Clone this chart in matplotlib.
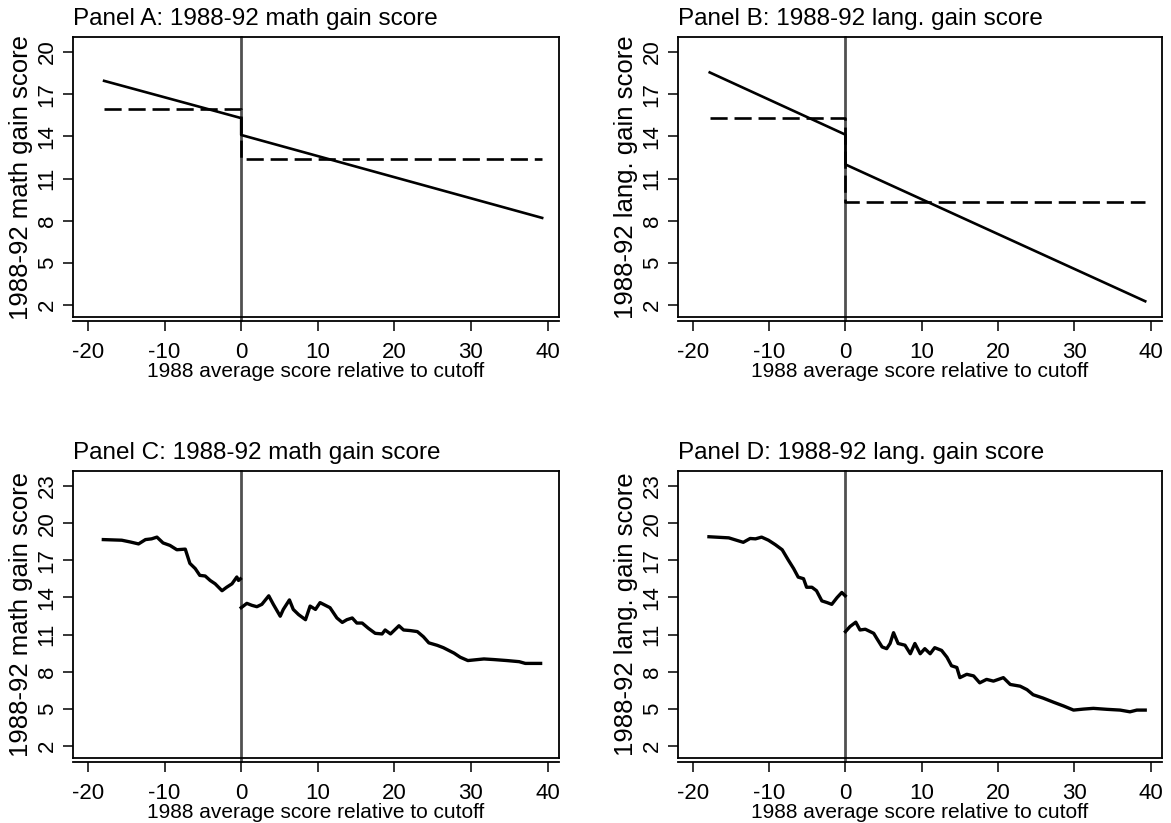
import matplotlib
matplotlib.use("Agg")
import matplotlib.pyplot as plt
from matplotlib import font_manager as fm
import numpy as np

# ---------------- data ----------------
titles = ["Panel A: 1988-92 math gain score", "Panel B: 1988-92 lang. gain score",
          "Panel C: 1988-92 math gain score", "Panel D: 1988-92 lang. gain score"]
ylabels = ["1988-92 math gain score", "1988-92 lang. gain score",
           "1988-92 math gain score", "1988-92 lang. gain score"]
xlabel = "1988 average score relative to cutoff"
xticks = [-20, -10, 0, 10, 20, 30, 40]
yticks_top = [2, 5, 8, 11, 14, 17, 20]
yticks_bot = [2, 5, 8, 11, 14, 17, 20, 23]

# Panel A: linear fit (solid) and means (dashed), jump at 0
a_fit_x = [-17.9, 0, 0, 39.3]
a_fit_y = [17.95, 15.3, 14.1, 8.2]
a_mean_x = [-17.9, 0, 0, 39.3]
a_mean_y = [15.95, 15.95, 12.42, 12.42]

# Panel B
b_fit_x = [-17.8, 0, 0, 39.3]
b_fit_y = [18.55, 14.12, 12.0, 2.27]
b_mean_x = [-17.8, 0, 0, 39.3]
b_mean_y = [15.28, 15.28, 9.31, 9.31]

# Panel C: local (running) means, left and right of cutoff
c_left_x = [-18.0, -15.6, -14.5, -13.4, -12.5, -11.7, -11.0, -10.2, -9.3, -8.4, -7.3,
            -6.7, -6.0, -5.4, -4.7, -4.05, -3.4, -2.5, -1.9, -1.2, -0.57, -0.35, -0.1]
c_left_y = [18.67, 18.62, 18.48, 18.32, 18.67, 18.73, 18.87, 18.4, 18.2, 17.85, 17.9,
            16.75, 16.33, 15.78, 15.73, 15.37, 15.1, 14.54, 14.82, 15.1, 15.65, 15.37, 15.5]
c_right_x = [0.0, 0.74, 1.4, 2.05, 2.7, 3.6, 4.2, 5.1, 5.5, 6.3, 6.8, 7.5, 8.4, 9.0, 9.7,
             10.3, 11.0, 11.6, 12.5, 13.2, 13.8, 14.5, 15.1, 15.8, 16.6, 17.5, 18.4, 18.8,
             19.5, 20.6, 21.2, 22.1, 23.0, 23.8, 24.5, 25.6, 26.4, 27.8, 28.6, 29.6, 30.4,
             31.7, 33.0, 34.7, 36.3, 37.1, 39.1]
c_right_y = [13.17, 13.52, 13.36, 13.25, 13.44, 14.13, 13.44, 12.48, 13.03, 13.8, 13.03,
             12.61, 12.2, 13.3, 13.03, 13.58, 13.36, 13.17, 12.34, 11.98, 12.2, 12.34,
             11.93, 11.93, 11.51, 11.1, 11.05, 11.37, 11.05, 11.71, 11.37, 11.32, 11.24,
             10.82, 10.33, 10.13, 9.94, 9.5, 9.17, 8.9, 8.95, 9.03, 8.98, 8.9, 8.81, 8.67, 8.67]

# Panel D
d_left_x = [-17.9, -15.3, -14.2, -13.4, -12.5, -11.8, -11.0, -10.1, -9.2, -8.3, -7.5, -6.8,
            -6.2, -5.5, -5.1, -4.4, -3.8, -3.1, -2.4, -1.8, -1.1, -0.48, -0.04]
d_left_y = [18.9, 18.81, 18.6, 18.45, 18.76, 18.73, 18.87, 18.62, 18.26, 17.85, 17.02, 16.33,
            15.64, 15.51, 14.82, 14.82, 14.54, 13.72, 13.58, 13.44, 13.99, 14.4, 14.13]
d_right_x = [0.0, 0.6, 1.35, 1.9, 2.6, 3.7, 4.1, 4.8, 5.4, 5.85, 6.3, 6.9, 7.8, 8.5, 9.1, 9.8,
             10.4, 11.1, 11.7, 12.6, 13.3, 13.9, 14.6, 15.0, 15.9, 16.8, 17.6, 18.5, 19.4,
             20.7, 21.6, 22.9, 23.8, 24.6, 25.9, 27.3, 28.6, 29.9, 31.2, 32.5, 34.3, 36.0,
             37.3, 38.2, 39.3]
d_right_y = [11.24, 11.65, 12.0, 11.37, 11.43, 11.1, 10.69, 10.0, 9.86, 10.28, 11.15, 10.28,
             10.14, 9.45, 10.28, 9.45, 9.86, 9.45, 9.94, 9.72, 9.17, 8.48, 8.34, 7.52, 7.79,
             7.66, 7.1, 7.38, 7.24, 7.52, 6.97, 6.83, 6.55, 6.14, 5.87, 5.53, 5.23, 4.9, 4.98,
             5.04, 4.96, 4.9, 4.76, 4.9, 4.9]

# ---------------- style ----------------
names = {f.name for f in fm.fontManager.ttflist}
base_font = "Liberation Sans" if "Liberation Sans" in names else "DejaVu Sans"
plt.rcParams["font.family"] = [base_font, "DejaVu Sans"]

W, H = 1171, 823
fig = plt.figure(figsize=(W / 100, H / 100), dpi=100)
fig.patch.set_facecolor("white")

def box(l, r, t, b):
    return [l / W, 1 - b / H, (r - l) / W, (b - t) / H]

rects = [box(73, 559, 37, 317), box(678, 1162, 37, 317),
         box(73, 559, 471, 758), box(678, 1162, 471, 758)]
heights = [280, 280, 287, 287]

axes = [fig.add_axes(r) for r in rects]

def style(ax, i, ylim, yticks):
    ax.set_xlim(-21.96, 41.5)
    ax.set_ylim(*ylim)
    for s in ax.spines.values():
        s.set_linewidth(1.3)
        s.set_color("black")
    ax.spines["bottom"].set_position(("outward", 3))
    ax.plot([0, 1], [0, 0], transform=ax.transAxes, color="black", lw=1.3, clip_on=False)
    ax.set_xticks(xticks)
    ax.set_xticklabels([str(v) for v in xticks])
    ax.set_yticks(yticks)
    ax.set_yticklabels([str(v) for v in yticks], rotation=90, va="center")
    ax.tick_params(axis="both", direction="out", length=7, width=1.1, labelsize=16)
    ax.tick_params(axis="y", pad=4)
    ax.tick_params(axis="x", pad=8)
    ax.set_title(titles[i], loc="left", fontsize=17.5, pad=9)
    ax.set_ylabel(ylabels[i], fontsize=18.5, labelpad=3)
    ax.set_xlabel(xlabel, fontsize=15, labelpad=-1)
    ax.axvline(0, ymin=-3 / heights[i], ymax=1, color="#505050", lw=2.0, zorder=1,
               clip_on=False)

dash = (0, (6.5, 2.6))
style(axes[0], 0, (1.15, 21.07), yticks_top)
axes[0].plot(a_fit_x, a_fit_y, color="black", lw=1.9, zorder=3)
axes[0].plot(a_mean_x, a_mean_y, color="black", lw=1.9, ls=dash, zorder=3)

style(axes[1], 1, (1.15, 21.07), yticks_top)
axes[1].plot(b_fit_x, b_fit_y, color="black", lw=1.9, zorder=3)
axes[1].plot(b_mean_x, b_mean_y, color="black", lw=1.9, ls=dash, zorder=3)

style(axes[2], 2, (1.03, 24.21), yticks_bot)
axes[2].plot(c_left_x, c_left_y, color="black", lw=2.4, zorder=3)
axes[2].plot(c_right_x, c_right_y, color="black", lw=2.4, zorder=3)

style(axes[3], 3, (1.03, 24.21), yticks_bot)
axes[3].plot(d_left_x, d_left_y, color="black", lw=2.4, zorder=3)
axes[3].plot(d_right_x, d_right_y, color="black", lw=2.4, zorder=3)

fig.savefig("out.png", dpi=100, facecolor="white")
